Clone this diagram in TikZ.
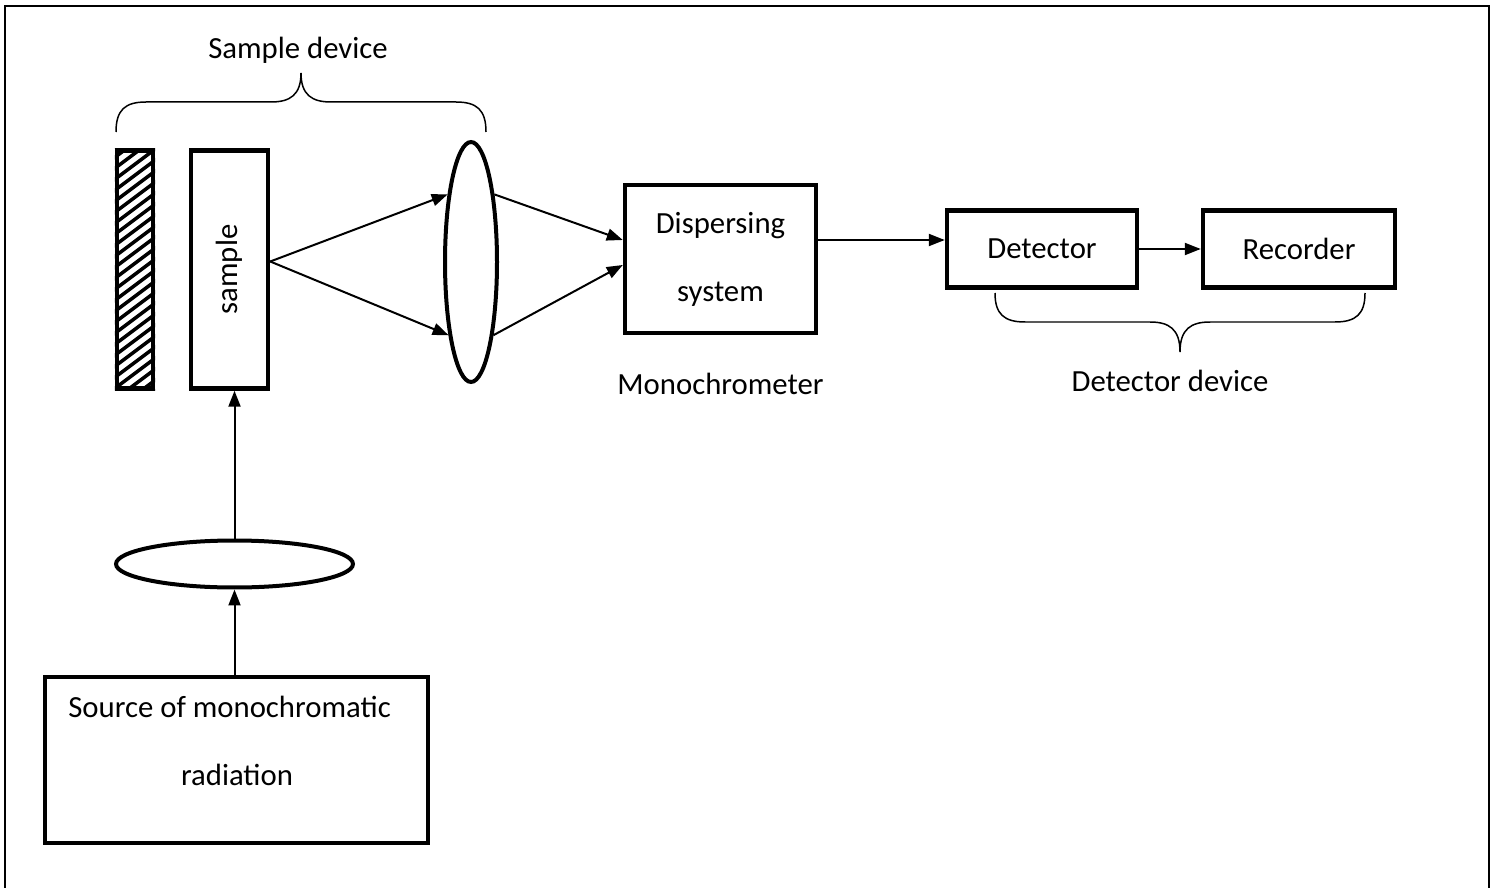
\documentclass[tikz,border=0pt]{standalone}
\usepackage{fontspec}
\setmainfont{Carlito}
\usetikzlibrary{arrows.meta, positioning, shapes.geometric, calc}

\tikzset{
  box/.style={draw, line width=0.09cm, inner sep=0pt},
  lens/.style={draw, ellipse, line width=0.08cm, inner sep=0pt},
  ray/.style={line width=0.04cm, -{Triangle[length=0.32cm, width=0.24cm]}},
  brace/.style={line width=0.03cm},
  lbl/.style={font=\fontsize{17.5}{21}\selectfont, inner sep=0pt}
}

\begin{document}
% pixel grid: x to the right, y downwards
\begin{tikzpicture}[x=0.02cm, y=-0.02cm]
    \useasboundingbox (0,0) rectangle (1493,888);
    \draw[line width=0.04cm] (5,6) rectangle (1489,892);

    % sample device
    \node[box, minimum width=0.72cm, minimum height=4.76cm] (mirror) at (135,269.5) {};
    \begin{scope}
      \clip (mirror.south west) rectangle (mirror.north east);
      \foreach \k in {0,...,26}
        \draw[line width=0.07cm] (110,150+11*\k) -- (160,112.5+11*\k);
    \end{scope}
    \node[box, minimum width=0.72cm, minimum height=4.76cm] at (mirror) {};
    \node[box, minimum width=1.54cm, minimum height=4.76cm] (sample) at (229.5,269.5) {};
    \node[lbl, rotate=90] (samplelbl) at (sample) {sample};
    \node[lens, minimum width=1.04cm, minimum height=4.8cm] (lens) at (471,262) {};

    % monochromator and detector chain
    \node[box, minimum width=3.82cm, minimum height=2.96cm, align=center, lbl]
      (disp) at (720.5,259) {Dispersing\\[0.62cm]system};
    \node[lbl, below=0.76cm of disp] (mono) {Monochrometer};
    \node[box, lbl, minimum width=3.8cm, minimum height=1.54cm] (det) at (1042,249) {Detector};
    \node[box, lbl, minimum width=3.84cm, minimum height=1.54cm] (rec) at (1299,249) {Recorder};

    % source and condenser
    \node[lens, minimum width=4.74cm, minimum height=0.94cm] (cond) at (234.5,564) {};
    \node[box, minimum width=7.66cm, minimum height=3.32cm] (src) at (236.5,760) {};
    \node[lbl, anchor=west] (srcA) at (68,707) {Source of monochromatic};
    \node[lbl] (srcB) at (237,775) {radiation};

    % rays
    \coordinate (emit) at ([yshift=0.16cm]sample.east);
    \draw[ray] (emit) -- (lens.109);
    \draw[ray] (emit) -- (lens.253);
    \draw[ray] (lens.71) -- ([yshift=0.38cm]disp.west);
    \draw[ray] (lens.287) -- ([yshift=-0.12cm]disp.west);
    \coordinate (dout) at ([yshift=0.38cm]disp.east);
    \draw[ray] (dout) -- (dout -| det.west);
    \draw[ray] (det) -- (rec);
    \draw[ray] (cond.north) -- (cond.north |- sample.south);
    \draw[ray] (cond.south |- src.north) -- (cond.south);

    % braces
    \draw[brace] (116,132) .. controls (116,110) and (125,102) .. (146,102) -- (271,102)
      .. controls (290,102) and (301,95) .. (301,73)
      .. controls (301,95) and (312,102) .. (331,102) -- (456,102)
      .. controls (477,102) and (486,110) .. (486,132);
    \node[lbl] (sdev) at (298,50) {Sample device};
    \draw[brace] (995,293) .. controls (995,314) and (1004,322) .. (1025,322) -- (1150,322)
      .. controls (1169,322) and (1180,329) .. (1180,352)
      .. controls (1180,329) and (1191,322) .. (1210,322) -- (1335,322)
      .. controls (1356,322) and (1365,314) .. (1365,293);
    \node[lbl] (ddev) at (1170,381) {Detector device};
\end{tikzpicture}
\end{document}
